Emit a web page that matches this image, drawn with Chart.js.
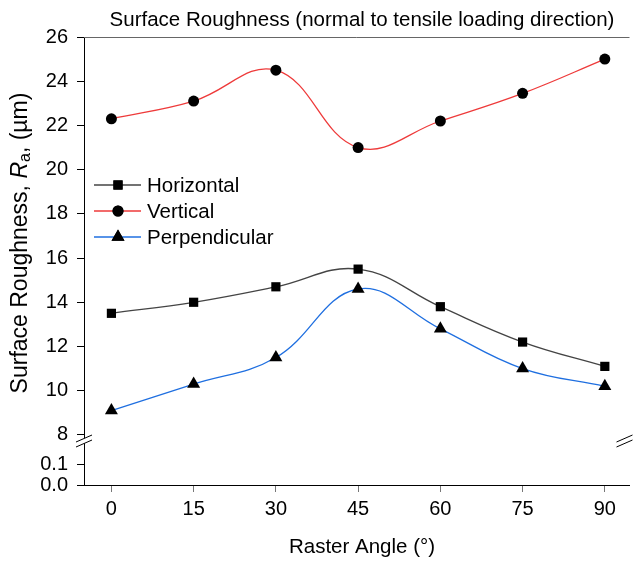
<!DOCTYPE html>
<html>
<head>
<meta charset="utf-8">
<script src="https://cdn.jsdelivr.net/npm/chart.js@4.4.1/dist/chart.umd.min.js"></script>
<style>
  html, body { margin: 0; padding: 0; background: #fff; }
  #wrap { width: 637px; height: 561px; }
</style>
</head>
<body>
<div id="wrap"><canvas id="chart" width="637" height="561"></canvas></div>
<script>
// Datos
const angulos = [0, 15, 30, 45, 60, 75, 90];
const horizontal = [13.5, 14.0, 14.7, 15.5, 13.8, 12.2, 11.1];
const vertical = [22.3, 23.1, 24.5, 21.0, 22.2, 23.45, 25.0];
const perpendicular = [9.1, 10.3, 11.5, 14.6, 12.8, 11.0, 10.2];
const nombresSeries = ['Horizontal', 'Vertical', 'Perpendicular'];
const ticksX = [0, 15, 30, 45, 60, 75, 90];
const ticksArriba = [8, 10, 12, 14, 16, 18, 20, 22, 24, 26];
const ticksAbajo = [0, 0.1];

const FUENTE = '"Liberation Sans", Arial, sans-serif';
const TAM = 20.5;
const TAM_TICKS = 20;
const TAM_EJE_Y = 23;

const colores = ['#444444', '#ee3a3a', '#1f6fe0'];
const marcadores = ['rect', 'circle', 'triangle'];
const radios = [6.5, 5.5, 7.5];

function puntos(valores) {
    return angulos.map((a, i) => ({ x: a, y: valores[i] }));
}

const datasets = [horizontal, vertical, perpendicular].map((serie, i) => ({
    label: nombresSeries[i],
    data: puntos(serie),
    yAxisID: 'y',
    borderColor: colores[i],
    borderWidth: 1.3,
    tension: 0.4,
    pointStyle: marcadores[i],
    pointRadius: radios[i],
    pointBackgroundColor: '#000',
    pointBorderColor: '#000',
    pointBorderWidth: 0,
    clip: false
}));

// Título, eje Y con formato, leyenda interna y marcas de corte
const extras = {
    id: 'extras',
    afterDraw(chart) {
        const ctx = chart.ctx;
        const area = chart.chartArea;
        const yArr = chart.scales.y;
        ctx.save();

        // línea superior
        ctx.strokeStyle = '#666';
        ctx.lineWidth = 1;
        ctx.beginPath();
        ctx.moveTo(area.left, area.top + 0.5);
        ctx.lineTo(area.right, area.top + 0.5);
        ctx.stroke();

        // título
        ctx.fillStyle = '#000';
        ctx.font = TAM + 'px ' + FUENTE;
        ctx.textAlign = 'center';
        ctx.textBaseline = 'middle';
        ctx.fillText('Surface Roughness (normal to tensile loading direction)', 362, 20);

        // título eje X
        ctx.fillText('Raster Angle (\u00B0)', 362, 547);

        // título eje Y: "Surface Roughness, Ra, (µm)"
        ctx.save();
        ctx.translate(21, 243);
        ctx.rotate(-Math.PI / 2);
        const partes = [
            { t: 'Surface Roughness, ', f: TAM_EJE_Y + 'px ' + FUENTE, dy: 0 },
            { t: 'R', f: 'italic ' + TAM_EJE_Y + 'px ' + FUENTE, dy: 0 },
            { t: 'a', f: Math.round(TAM_EJE_Y * 0.7) + 'px ' + FUENTE, dy: 5 },
            { t: ', (\u00B5m)', f: TAM_EJE_Y + 'px ' + FUENTE, dy: 0 }
        ];
        let ancho = 0;
        partes.forEach(p => { ctx.font = p.f; p.w = ctx.measureText(p.t).width; ancho += p.w; });
        let x = -ancho / 2;
        ctx.textAlign = 'left';
        partes.forEach(p => {
            ctx.font = p.f;
            ctx.fillText(p.t, x, p.dy);
            x += p.w;
        });
        ctx.restore();

        // leyenda
        ctx.font = TAM + 'px ' + FUENTE;
        ctx.textAlign = 'left';
        chart.data.datasets.forEach((ds, i) => {
            const fy = 185 + i * 26;
            ctx.strokeStyle = ds.borderColor;
            ctx.lineWidth = 1.3;
            ctx.beginPath();
            ctx.moveTo(94, fy);
            ctx.lineTo(141, fy);
            ctx.stroke();
            Chart.helpers.drawPoint(ctx, {
                pointStyle: ds.pointStyle, radius: ds.pointRadius, borderWidth: 0, rotation: 0
            }, 118, fy);
            ctx.fillStyle = '#000';
            ctx.fill();
            ctx.fillText(ds.label, 147, fy + 1);
        });

        // marcas de corte del eje
        const yc = yArr.bottom;
        [area.left, area.right - 5].forEach(cx => {
            ctx.fillStyle = '#fff';
            ctx.beginPath();
            ctx.moveTo(cx - 8, yc + 4);
            ctx.lineTo(cx + 8, yc - 3);
            ctx.lineTo(cx + 8, yc + 2);
            ctx.lineTo(cx - 8, yc + 9);
            ctx.closePath();
            ctx.fill();
            ctx.strokeStyle = '#000';
            ctx.lineWidth = 1;
            ctx.beginPath();
            ctx.moveTo(cx - 8, yc + 4);
            ctx.lineTo(cx + 8, yc - 3);
            ctx.moveTo(cx - 8, yc + 9);
            ctx.lineTo(cx + 8, yc + 2);
            ctx.stroke();
        });
        ctx.restore();
    }
};

const ctx = document.getElementById('chart').getContext('2d');
new Chart(ctx, {
    type: 'line',
    data: { datasets: datasets },
    options: {
        responsive: false,
        animation: false,
        layout: { padding: { top: 37, right: 0, left: 0, bottom: 0 } },
        plugins: { legend: { display: false }, title: { display: false }, tooltip: { enabled: false } },
        scales: {
            x: {
                type: 'linear',
                min: -5,
                max: 94.5,
                afterBuildTicks: s => { s.ticks = ticksX.map(v => ({ value: v })); },
                afterFit: s => { s.height = 76; },
                grid: { drawOnChartArea: false, drawTicks: true, tickLength: 7, tickColor: '#777' },
                border: { display: true, color: '#000', width: 1 },
                ticks: { color: '#000', font: { family: FUENTE, size: TAM_TICKS }, padding: 5,
                    maxRotation: 0, autoSkip: false }
            },
            yBajo: {
                type: 'linear',
                position: 'left',
                stack: 'rotura',
                stackWeight: 47,
                min: 0,
                max: 0.224,
                afterBuildTicks: s => { s.ticks = ticksAbajo.map(v => ({ value: v })); },
                afterFit: s => { s.width = 84; },
                grid: { drawOnChartArea: false, drawTicks: true, tickLength: 7, tickColor: '#000' },
                border: { display: true, color: '#000', width: 1 },
                ticks: { color: '#000', font: { family: FUENTE, size: TAM_TICKS }, padding: 9,
                    autoSkip: false, callback: v => v.toFixed(1) }
            },
            y: {
                type: 'linear',
                position: 'left',
                stack: 'rotura',
                stackWeight: 401,
                min: 7.86,
                max: 26,
                afterBuildTicks: s => { s.ticks = ticksArriba.map(v => ({ value: v })); },
                afterFit: s => { s.width = 84; },
                grid: { drawOnChartArea: false, drawTicks: true, tickLength: 7, tickColor: '#000' },
                border: { display: true, color: '#000', width: 1 },
                ticks: { color: '#000', font: { family: FUENTE, size: TAM_TICKS }, padding: 9,
                    autoSkip: false }
            }
        }
    },
    plugins: [extras]
});
</script>
</body>
</html>
